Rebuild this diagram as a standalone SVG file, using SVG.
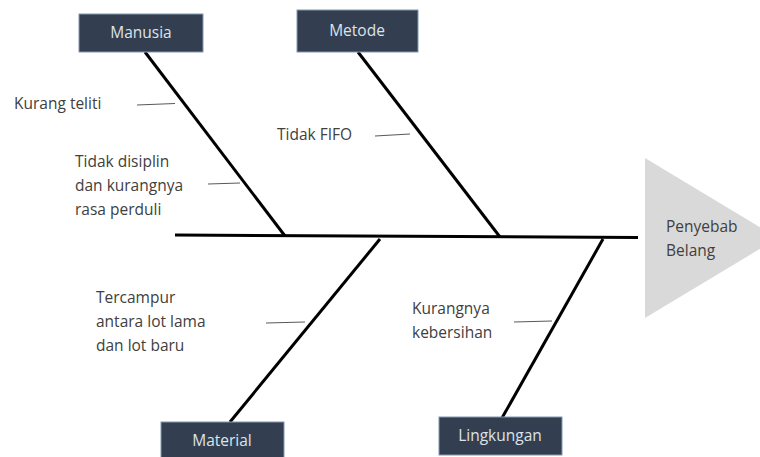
<svg xmlns="http://www.w3.org/2000/svg" width="760" height="457" viewBox="0 0 760 457">
<style>
.box{fill:#333f50;stroke:#8497b0;stroke-width:1}
.bt{font-family:"Open Sans","Liberation Sans",sans-serif;font-size:15.5px;fill:#dde3ea;text-anchor:middle}
.t{font-family:"Open Sans","Liberation Sans",sans-serif;font-size:15.5px;fill:#404040}
.bone{stroke:#000;stroke-width:3;fill:none}
.tick{stroke:#595959;stroke-width:1.2;fill:none}
</style>
<rect width="760" height="457" fill="#fff"/>
<g id="head">
<polygon points="645,158 645,318 778,238" fill="#d9d9d9"/>
<text class="t" x="666" y="232">Penyebab</text>
<text class="t" x="666" y="256">Belang</text>
</g>
<g id="connectors">
<line class="bone" x1="175" y1="235" x2="638" y2="237.5"/>
<line class="bone" x1="145" y1="52" x2="285" y2="236"/>
<line class="bone" x1="358" y1="52" x2="500" y2="237"/>
<line class="bone" x1="380" y1="239" x2="230" y2="422"/>
<line class="bone" x1="603" y1="239" x2="502" y2="418"/>
<line class="tick" x1="137" y1="105" x2="175" y2="103.5"/>
<line class="tick" x1="208" y1="184" x2="240" y2="183"/>
<line class="tick" x1="375" y1="136" x2="410" y2="134"/>
<line class="tick" x1="266" y1="323" x2="305" y2="322"/>
<line class="tick" x1="514" y1="322" x2="552" y2="321"/>
</g>
<g id="manusia">
<rect class="box" x="79" y="14" width="124" height="38"/>
<text class="bt" x="141" y="38">Manusia</text>
</g>
<g id="metode">
<rect class="box" x="297" y="10" width="121" height="42"/>
<text class="bt" x="357" y="36">Metode</text>
</g>
<g id="material">
<rect class="box" x="161" y="422" width="123" height="40"/>
<text class="bt" x="222" y="446">Material</text>
</g>
<g id="lingkungan">
<rect class="box" x="439" y="417" width="123" height="38"/>
<text class="bt" x="500" y="441">Lingkungan</text>
</g>
<g id="causes">
<text class="t" x="14" y="109">Kurang teliti</text>
<text class="t" x="75" y="167">Tidak disiplin</text>
<text class="t" x="75" y="191">dan kurangnya</text>
<text class="t" x="75" y="215">rasa perduli</text>
<text class="t" x="277" y="140">Tidak FIFO</text>
<text class="t" x="96" y="303">Tercampur</text>
<text class="t" x="96" y="327">antara lot lama</text>
<text class="t" x="96" y="351">dan lot baru</text>
<text class="t" x="412" y="314">Kurangnya</text>
<text class="t" x="412" y="338">kebersihan</text>
</g>
</svg>
